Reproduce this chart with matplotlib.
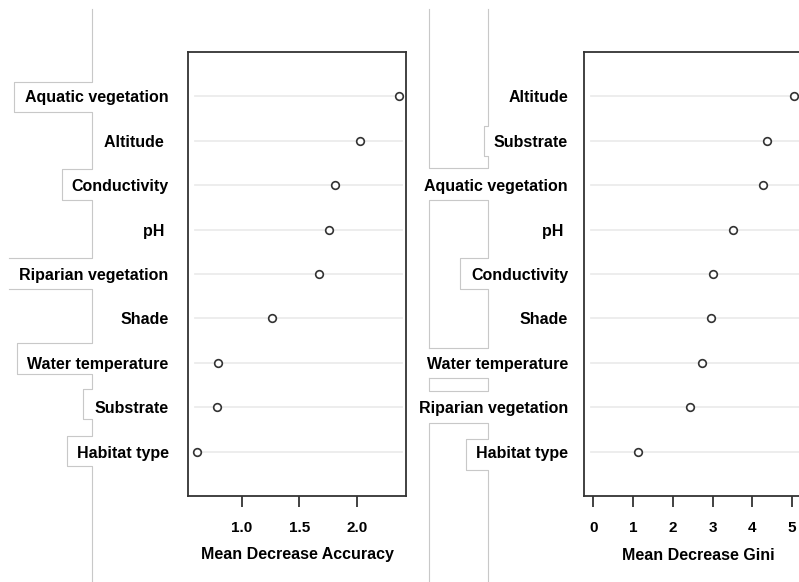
import matplotlib.pyplot as plt

plt.rcParams['font.family'] = ['Liberation Sans', 'DejaVu Sans']
plt.rcParams['font.weight'] = 'bold'

# variable importance (bottom to top, as drawn by dotchart)
labels_acc = ['Habitat type', 'Substrate', 'Water temperature', 'Shade',
              'Riparian vegetation', 'pH ', 'Conductivity', 'Altitude ',
              'Aquatic vegetation']
mda = [0.61, 0.78, 0.79, 1.26, 1.67, 1.76, 1.81, 2.03, 2.37]

labels_gini = ['Habitat type', 'Riparian vegetation', 'Water temperature',
               'Shade', 'Conductivity', 'pH ', 'Aquatic vegetation',
               'Substrate', 'Altitude']
mdg = [1.12, 2.44, 2.73, 2.97, 3.00, 3.52, 4.27, 4.38, 5.04]

ticks_acc = [1.0, 1.5, 2.0]
ticks_gini = [0, 1, 2, 3, 4, 5]

W, H = 799, 582
fig = plt.figure(figsize=(W / 100, H / 100), dpi=100)

# faint text-box borders around the labels (page layout leftovers)
bg = fig.add_axes([0, 0, 1, 1], zorder=-1)
bg.set_xlim(0, W)
bg.set_ylim(H, 0)
bg.axis('off')
borders = [
    [(91.7, 9), (91.7, 82), (14, 82), (14, 112), (91.7, 112), (91.7, 169),
     (61.7, 169), (61.7, 200), (91.7, 200), (91.7, 258), (9, 258)],
    [(9, 289), (91.7, 289), (91.7, 343), (16.7, 343), (16.7, 374),
     (91.7, 374), (91.7, 389), (82.7, 389), (82.7, 419), (91.7, 419),
     (91.7, 435.7), (66.7, 435.7), (66.7, 466), (91.7, 466), (91.7, 582)],
    [(429.3, 9), (429.3, 168), (488.3, 168), (488.3, 156), (484, 156),
     (484, 126), (488.3, 126), (488.3, 9)],
    [(429.3, 348.3), (429.3, 200), (488.3, 200), (488.3, 258), (460, 258),
     (460, 289), (488.3, 289), (488.3, 348.3), (429.3, 348.3)],
    [(429.3, 378.3), (488.3, 378.3), (488.3, 391), (429.3, 391),
     (429.3, 378.3)],
    [(429.3, 582), (429.3, 423.3), (488.3, 423.3), (488.3, 439),
     (465.7, 439), (465.7, 470), (488.3, 470), (488.3, 582)],
]
for seg in borders:
    xs, ys = zip(*seg)
    bg.plot(xs, ys, color='#c8c8c8', lw=0.8)


def dotchart(ax, vals, labels, xlim, ticks, ticklabels, xlabel, lpad):
    pos = range(1, len(vals) + 1)
    for p in pos:
        ax.axhline(p, xmin=0.03, xmax=0.98, color='#ececec', lw=1.3,
                   zorder=1)
    ax.plot(vals, list(pos), 'o', ms=5.5, mfc='white', mec='#333333',
            mew=1.2, zorder=3, clip_on=False)
    ax.set_xlim(*xlim)
    ax.set_ylim(0, len(vals) + 1)
    ax.set_yticks(list(pos))
    ax.set_yticklabels(labels, fontsize=11.5, fontweight='bold')
    ax.tick_params(axis='y', length=0, pad=lpad)
    ax.set_xticks(ticks)
    ax.set_xticklabels(ticklabels, fontsize=11, fontweight='bold')
    ax.tick_params(axis='x', direction='out', length=8, width=1.3,
                   color='#333333', pad=10)
    ax.set_xlabel(xlabel, fontsize=11.5, fontweight='bold', labelpad=9)
    for s in ax.spines.values():
        s.set_color('#333333')
        s.set_linewidth(1.3)


ax1 = fig.add_axes([188 / W, 1 - 496 / H, 218 / W, 444 / H])
dotchart(ax1, mda, labels_acc, (0.53, 2.43), ticks_acc,
         ['1.0', '1.5', '2.0'], 'Mean Decrease Accuracy', 14)

ax2 = fig.add_axes([584 / W, 1 - 496 / H, 228 / W, 444 / H])
dotchart(ax2, mdg, labels_gini, (-0.235, 5.5), ticks_gini,
         [str(t) for t in ticks_gini], 'Mean Decrease Gini', 11.5)

fig.savefig('out.png', dpi=100)
